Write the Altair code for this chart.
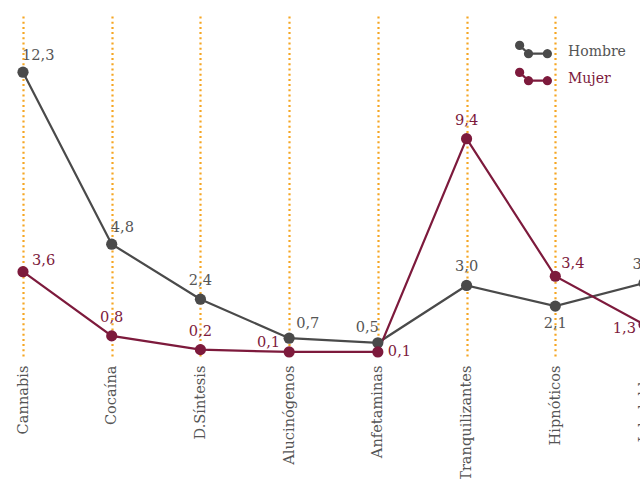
import altair as alt
import pandas as pd
import math

categories = ["Cannabis", "Cocaína", "D.Síntesis", "Alucinógenos", "Anfetaminas",
              "Tranquilizantes", "Hipnóticos", "Inhalables"]
hombre = [12.3, 4.8, 2.4, 0.7, 0.5, 3.0, 2.1, 3.1]
mujer = [3.6, 0.8, 0.2, 0.1, 0.1, 9.4, 3.4, 1.3]
# label placement codes per point
hombre_pos = ["ur", "ur", "up", "ur2", "ul", "up", "dn", "up"]
mujer_pos = ["ur3", "up", "up", "l", "r", "up", "ur4", "l2"]

GRAY = "#4a4a4a"
MAROON = "#7d1a3c"
ORANGE = "#f5a623"
FONT = "DejaVu Serif"

rows = []
for i, c in enumerate(categories):
    rows.append({"cat": c, "sexo": "Hombre", "v": hombre[i], "pos": hombre_pos[i], "o": i})
    rows.append({"cat": c, "sexo": "Mujer", "v": mujer[i], "pos": mujer_pos[i], "o": i})
df = pd.DataFrame(rows)
df["lbl"] = df["v"].map(lambda x: f"{x:.1f}".replace(".", ","))

# legend symbol: three dots joined by a line (all subpaths same winding)
def poly_circle(cx, cy, r, n=16):
    pts = [(cx + r * math.cos(2 * math.pi * k / n), cy + r * math.sin(2 * math.pi * k / n)) for k in range(n)]
    return "M" + " L".join(f"{x:.3f},{y:.3f}" for x, y in pts) + " Z"

def seg(p, q, w):
    dx, dy = q[0] - p[0], q[1] - p[1]
    L = math.hypot(dx, dy)
    nx, ny = -dy / L * w, dx / L * w
    pts = [(p[0] - nx, p[1] - ny), (q[0] - nx, q[1] - ny), (q[0] + nx, q[1] + ny), (p[0] + nx, p[1] + ny)]
    return "M" + " L".join(f"{x:.3f},{y:.3f}" for x, y in pts) + " Z"

P = [(-0.75, -0.33), (-0.27, 0.12), (0.75, 0.12)]
sym = " ".join([seg(P[0], P[1], 0.06), seg(P[1], P[2], 0.06)] + [poly_circle(x, y, 0.25) for x, y in P])

xenc = alt.X("cat:N", sort=categories,
             scale=alt.Scale(type="point", range=[23, 644], padding=0),
             axis=alt.Axis(title=None, labelAngle=-90, labelFont=FONT, labelFontSize=14.6,
                           labelColor="#555555", labelPadding=8, domain=False, ticks=False,
                           grid=True, gridColor=ORANGE, gridDash=[2, 3.2], gridWidth=2.2,
                           labelAlign="right", labelBaseline="middle"))
yenc = alt.Y("v:Q", scale=alt.Scale(domain=[-0.12, 14.75], nice=False, zero=False), axis=None)
cscale = alt.Scale(domain=["Hombre", "Mujer"], range=[GRAY, MAROON])

base = alt.Chart(df)

lines = base.mark_line(strokeWidth=2.2).encode(
    x=xenc, y=yenc,
    color=alt.Color("sexo:N", scale=cscale, legend=None),
    detail="sexo:N", order="o:Q")

points = base.mark_circle(size=125, opacity=1).encode(
    x=xenc, y=yenc,
    color=alt.Color("sexo:N", scale=cscale,
                    legend=alt.Legend(title=None, orient="none", legendX=515, legendY=17,
                                      symbolType=sym, symbolSize=1369, symbolStrokeWidth=0,
                                      symbolOpacity=1,
                                      labelFont=FONT, labelFontSize=14, labelOffset=16,
                                      labelColor=alt.ExprRef("datum.label == 'Hombre' ? '#555555' : '#7d1a3c'"),
                                      rowPadding=1, padding=0)))

placements = {
    "ur": dict(align="left", dx=-1, dy=-16),
    "ur2": dict(align="left", dx=7, dy=-14),
    "ur3": dict(align="left", dx=9, dy=-11),
    "ur4": dict(align="left", dx=6, dy=-12),
    "up": dict(align="center", dx=0, dy=-18),
    "ul": dict(align="right", dx=1, dy=-15),
    "dn": dict(align="center", dx=0, dy=18),
    "l": dict(align="right", dx=-9, dy=-9),
    "l2": dict(align="right", dx=-8, dy=5),
    "r": dict(align="left", dx=10, dy=0),
}

texts = []
for code, p in placements.items():
    texts.append(
        base.transform_filter(alt.datum.pos == code).mark_text(
            font=FONT, fontSize=14.6, baseline="middle", **p).encode(
            x=xenc, y=yenc, text="lbl:N",
            color=alt.Color("sexo:N", scale=alt.Scale(domain=["Hombre", "Mujer"], range=["#555555", MAROON]),
                            legend=None)))

chart = alt.layer(lines, *texts, points).properties(
    width=640, height=341,
    background="white",
    autosize=alt.AutoSizeParams(type="none"),
    padding={"left": 0, "top": 16, "right": 0, "bottom": 122},
).resolve_scale(color="independent").configure_view(stroke=None)

chart.save("out.html", embed_options={"renderer": "svg", "actions": False})
